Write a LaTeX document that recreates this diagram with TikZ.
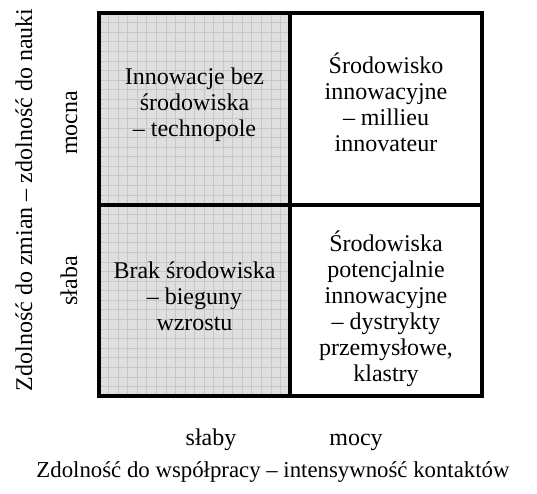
\documentclass[tikz,border=0pt]{standalone}
\usepackage{fontspec}
\setmainfont{Liberation Serif}
\begin{document}
\begin{tikzpicture}[x=1pt,y=-1pt,
		celltext/.style={align=center, font=\fontsize{24}{26}\selectfont},
		axistext/.style={font=\fontsize{24}{26}\selectfont},
		gridline/.style={draw=gray!45, line width=0.7pt},
		frameline/.style={line width=4pt}]
	\useasboundingbox (0,0) rectangle (537,494);
	\coordinate (nw) at (99,13);
	\coordinate (ne) at (482,13);
	\coordinate (sw) at (99,396);
	\coordinate (se) at (482,396);
	\coordinate (mn) at (290,13);
	\coordinate (ms) at (290,396);
	\coordinate (mw) at (99,205);
	\coordinate (me) at (482,205);
	% shaded left column with grid
	\fill[gray!25] (nw) rectangle (ms);
	\foreach \i in {1,...,19} {
		\draw[gridline] (99+\i*9.55,13) -- (99+\i*9.55,396);
	}
	\foreach \j in {1,...,39} {
		\draw[gridline] (99,13+\j*9.575) -- (290,13+\j*9.575);
	}
	\draw[frameline] (nw) rectangle (se);
	\draw[frameline] (mn) -- (ms);
	\draw[frameline] (mw) -- (me);
	\node[celltext] (tl) at (194.5,105) {Innowacje bez\\środowiska\\– technopole};
	\node[celltext] (tr) at (386,102) {Środowisko\\innowacyjne\\– millieu\\innovateur};
	\node[celltext] (bl) at (194.5,296) {Brak środowiska\\– bieguny\\wzrostu};
	\node[celltext] (br) at (386,309) {Środowiska\\potencjalnie\\innowacyjne\\– dystrykty\\przemysłowe,\\klastry};
	\node[axistext, anchor=base] (xlow) at (211,445) {słaby};
	\node[axistext, anchor=base] (xhigh) at (356,445) {mocy};
	\node[axistext, anchor=base, font=\fontsize{22.8}{26}\selectfont] (xname) at (273,477) {Zdolność do współpracy – intensywność kontaktów};
	\node[axistext, rotate=90, anchor=base] (yhigh) at (77,123) {mocna};
	\node[axistext, rotate=90, anchor=base] (ylow) at (77,281) {słaba};
	\node[axistext, rotate=90, anchor=base] (yname) at (32,200) {Zdolność do zmian – zdolność do nauki};
\end{tikzpicture}
\end{document}
